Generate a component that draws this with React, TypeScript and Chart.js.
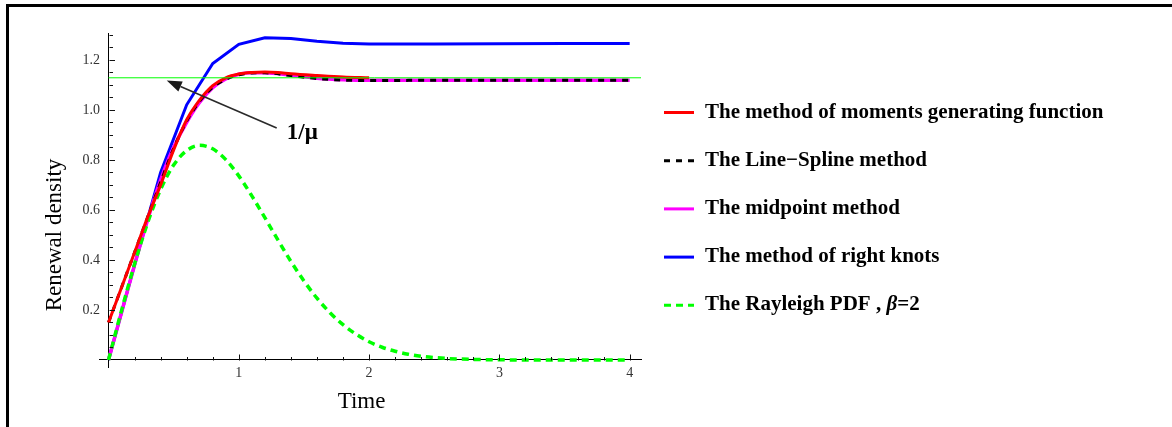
import { useEffect, useRef } from "react";
import { Chart, registerables } from "chart.js";

Chart.register(...registerables);

const W = 1172;
const H = 427;

// axis ranges
const xMin = -0.073;
const xMax = 4.087;
const yMin = -0.03;
const yMax = 1.307;

// ticks
const xMajorTicks = [1, 2, 3, 4];
const xTickLabels = ["1", "2", "3", "4"];
const xMinorTicks = [0.2, 0.4, 0.6, 0.8, 1.2, 1.4, 1.6, 1.8, 2.2, 2.4, 2.6, 2.8, 3.2, 3.4, 3.6, 3.8];
const yMajorTicks = [0.2, 0.4, 0.6, 0.8, 1.0, 1.2];
const yTickLabels = ["0.2", "0.4", "0.6", "0.8", "1.0", "1.2"];
const yMinorTicks = [0.05, 0.1, 0.15, 0.25, 0.3, 0.35, 0.45, 0.5, 0.55, 0.65, 0.7, 0.75, 0.85, 0.9, 0.95, 1.05, 1.1, 1.15, 1.25, 1.3];

// series: method of moments generating function
const momentsT = [0, 0.1, 0.2, 0.3, 0.4, 0.5, 0.6, 0.7, 0.8, 0.9, 1.0, 1.1, 1.2, 1.3, 1.4, 1.6, 1.8, 2.0];
const momentsV = [0.15, 0.29, 0.43, 0.57, 0.7, 0.84, 0.96, 1.04, 1.097, 1.128, 1.143, 1.149, 1.151, 1.149, 1.144, 1.137, 1.131, 1.128];

// Line-Spline method
const splineT = [0, 0.1, 0.2, 0.3, 0.4, 0.5, 0.6, 0.7, 0.8, 0.9, 1.0, 1.1, 1.2, 1.4, 1.6, 1.8, 2.0, 2.5, 3.0, 3.5, 4.0];
const splineV = [0.15, 0.29, 0.43, 0.57, 0.71, 0.845, 0.955, 1.035, 1.09, 1.122, 1.14, 1.147, 1.148, 1.137, 1.125, 1.119, 1.117, 1.118, 1.118, 1.118, 1.118];

// midpoint method
const midT = [0, 0.1, 0.2, 0.3, 0.4, 0.5, 0.6, 0.7, 0.8, 0.9, 1.0, 1.1, 1.2, 1.4, 1.6, 1.8, 2.0, 2.5, 3.0, 3.5, 4.0];
const midV = [0, 0.19, 0.38, 0.56, 0.72, 0.85, 0.95, 1.03, 1.088, 1.123, 1.142, 1.148, 1.148, 1.138, 1.126, 1.12, 1.118, 1.118, 1.118, 1.118, 1.118];

// method of right knots
const rightT = [0, 0.2, 0.4, 0.6, 0.8, 1.0, 1.2, 1.4, 1.6, 1.8, 2.0, 2.5, 3.0, 3.5, 4.0];
const rightV = [0, 0.38, 0.75, 1.02, 1.185, 1.262, 1.288, 1.285, 1.274, 1.266, 1.263, 1.263, 1.264, 1.265, 1.265];

// Rayleigh PDF, beta = 2
const rayleighT = [0, 0.1, 0.2, 0.3, 0.4, 0.5, 0.6, 0.7, 0.8, 0.9, 1.0, 1.1, 1.2, 1.3, 1.4, 1.5, 1.6, 1.7, 1.8, 1.9, 2.0, 2.1, 2.2, 2.3, 2.4, 2.5, 2.6, 2.7, 2.8, 3.0, 3.5, 4.0];
const rayleighV = [0, 0.198, 0.384, 0.548, 0.682, 0.779, 0.837, 0.858, 0.844, 0.801, 0.736, 0.656, 0.569, 0.48, 0.394, 0.316, 0.247, 0.189, 0.141, 0.103, 0.073, 0.051, 0.035, 0.023, 0.015, 0.0097, 0.006, 0.0037, 0.0022, 0.0007, 0, 0];

// 1/mu reference level
const recipMu = 1.128;
const recipMuSpan = [0, xMax];

// annotation arrow (data coords): tail -> head
const arrowTail = [1.291, 0.927];
const arrowHead = [0.447, 1.117];
const arrowLabel = "1/μ";
const arrowLabelPos = [1.368, 0.882];

const xTitle = "Time";
const yTitle = "Renewal density";

const legendLabels = [
  "The method of moments generating function",
  "The Line−Spline method",
  "The midpoint method",
  "The method of right knots",
  "The Rayleigh PDF , β=2",
];
// dataset index for each legend row
const legendDataset = [1, 3, 4, 5, 2];

const pts = (ts: number[], vs: number[]) => ts.map((t, i) => ({ x: t, y: vs[i] }));

const SERIF = "'Liberation Serif', 'Times New Roman', serif";

function drawRich(ctx: CanvasRenderingContext2D, text: string, x: number, y: number, size: number, bold: boolean) {
  ctx.save();
  ctx.textBaseline = "alphabetic";
  ctx.textAlign = "left";
  let cx = x;
  for (const ch of Array.from(text)) {
    const italic = ch === "β";
    ctx.font = `${italic ? "italic " : ""}${bold ? "bold " : ""}${size}px ${SERIF}`;
    ctx.fillText(ch, cx, y);
    cx += ctx.measureText(ch).width;
  }
  ctx.restore();
}

const decorPlugin = {
  id: "decor",
  afterDraw(chart: any) {
    const ctx: CanvasRenderingContext2D = chart.ctx;
    const xs = chart.scales.x;
    const ys = chart.scales.y;
    const x0 = xs.getPixelForValue(0);
    const y0 = ys.getPixelForValue(0);
    ctx.save();

    // frame
    ctx.fillStyle = "#000";
    ctx.fillRect(6, 4, W - 6, 3);
    ctx.fillRect(6, 4, 3, H - 4);

    // ticks (inward)
    ctx.strokeStyle = "#111";
    ctx.lineWidth = 1;
    ctx.beginPath();
    const yl = Math.round(y0) + 0.5;
    const xl = Math.round(x0) + 0.5;
    xMajorTicks.forEach((v) => {
      const p = Math.round(xs.getPixelForValue(v)) + 0.5;
      ctx.moveTo(p, yl);
      ctx.lineTo(p, yl - 6);
    });
    xMinorTicks.forEach((v) => {
      const p = Math.round(xs.getPixelForValue(v)) + 0.5;
      ctx.moveTo(p, yl);
      ctx.lineTo(p, yl - 3.5);
    });
    yMajorTicks.forEach((v) => {
      const p = Math.round(ys.getPixelForValue(v)) + 0.5;
      ctx.moveTo(xl, p);
      ctx.lineTo(xl + 5.5, p);
    });
    yMinorTicks.forEach((v) => {
      const p = Math.round(ys.getPixelForValue(v)) + 0.5;
      ctx.moveTo(xl, p);
      ctx.lineTo(xl + 3.5, p);
    });
    ctx.stroke();

    // y tick labels
    ctx.fillStyle = "#333";
    ctx.font = `14px ${SERIF}`;
    ctx.textAlign = "right";
    ctx.textBaseline = "middle";
    yMajorTicks.forEach((v, i) => {
      ctx.fillText(yTickLabels[i], x0 - 8.5, ys.getPixelForValue(v) + 0.5);
    });

    // arrow annotation
    const tx = xs.getPixelForValue(arrowTail[0]);
    const ty = ys.getPixelForValue(arrowTail[1]);
    const hx = xs.getPixelForValue(arrowHead[0]);
    const hy = ys.getPixelForValue(arrowHead[1]);
    const ang = Math.atan2(hy - ty, hx - tx);
    const headLen = 15;
    const headHalf = 5.5;
    const bx = hx - headLen * Math.cos(ang);
    const by = hy - headLen * Math.sin(ang);
    ctx.strokeStyle = "#2a2a2a";
    ctx.lineWidth = 1.6;
    ctx.beginPath();
    ctx.moveTo(tx, ty);
    ctx.lineTo(bx, by);
    ctx.stroke();
    ctx.fillStyle = "#1a1a1a";
    ctx.beginPath();
    ctx.moveTo(hx, hy);
    ctx.lineTo(bx + headHalf * Math.sin(ang), by - headHalf * Math.cos(ang));
    ctx.lineTo(bx - headHalf * Math.sin(ang), by + headHalf * Math.cos(ang));
    ctx.closePath();
    ctx.fill();

    ctx.fillStyle = "#000";
    drawRich(ctx, arrowLabel, xs.getPixelForValue(arrowLabelPos[0]), ys.getPixelForValue(arrowLabelPos[1]), 23, true);

    // axis titles
    ctx.fillStyle = "#000";
    ctx.font = `23px ${SERIF}`;
    ctx.textAlign = "center";
    ctx.textBaseline = "alphabetic";
    ctx.fillText(xTitle, 361.5, 408);
    ctx.save();
    ctx.translate(61, 235);
    ctx.rotate(-Math.PI / 2);
    ctx.fillText(yTitle, 0, 0);
    ctx.restore();

    // legend
    legendLabels.forEach((label, i) => {
      const ds = chart.data.datasets[legendDataset[i]];
      const cy = 112.5 + i * 48.2;
      ctx.save();
      ctx.strokeStyle = ds.borderColor;
      ctx.lineWidth = 3;
      ctx.setLineDash(ds.borderDash || []);
      ctx.beginPath();
      ctx.moveTo(664, cy);
      ctx.lineTo(694, cy);
      ctx.stroke();
      ctx.restore();
      ctx.fillStyle = "#000";
      drawRich(ctx, label, 705, cy + 5, 21, true);
    });

    ctx.restore();
  },
};

export default function App() {
  const ref = useRef<HTMLCanvasElement>(null);
  useEffect(() => {
    const common = { pointRadius: 0, fill: false, borderWidth: 3 };
    const chart = new Chart(ref.current as HTMLCanvasElement, {
      type: "line",
      data: {
        datasets: [
          {
            ...common,
            label: "1/mu",
            data: pts(recipMuSpan, [recipMu, recipMu]),
            borderColor: "#00ff00",
            borderWidth: 1,
          },
          {
            ...common,
            label: legendLabels[0],
            data: pts(momentsT, momentsV),
            borderColor: "#ff0000",
            cubicInterpolationMode: "monotone",
          },
          {
            ...common,
            label: legendLabels[4],
            data: pts(rayleighT, rayleighV),
            borderColor: "#00ff00",
            borderDash: [7, 5],
            borderWidth: 3.5,
            cubicInterpolationMode: "monotone",
          },
          {
            ...common,
            label: legendLabels[1],
            data: pts(splineT, splineV),
            borderColor: "#000000",
            borderDash: [6, 6],
            cubicInterpolationMode: "monotone",
          },
          {
            ...common,
            label: legendLabels[2],
            data: pts(midT, midV),
            borderColor: "#ff00ff",
            borderWidth: 3.5,
            cubicInterpolationMode: "monotone",
          },
          {
            ...common,
            label: legendLabels[3],
            data: pts(rightT, rightV),
            borderColor: "#0000ff",
          },
        ] as any,
      },
      options: {
        animation: false,
        responsive: false,
        devicePixelRatio: 1,
        layout: { padding: { left: 99, right: 531, top: 33, bottom: 59.5 } },
        plugins: { legend: { display: false }, tooltip: { enabled: false }, title: { display: false } },
        scales: {
          x: {
            type: "linear",
            min: xMin,
            max: xMax,
            position: { y: 0 } as any,
            grid: { display: false, drawTicks: false },
            border: { display: true, color: "#000", width: 1 },
            afterBuildTicks: (axis: any) => {
              axis.ticks = xMajorTicks.map((v) => ({ value: v }));
            },
            ticks: {
              autoSkip: false,
              maxRotation: 0,
              padding: 5,
              color: "#333",
              font: { family: SERIF, size: 14 },
              callback: (v: any) => {
                const i = xMajorTicks.indexOf(Number(v));
                return i >= 0 ? xTickLabels[i] : "";
              },
            },
          },
          y: {
            type: "linear",
            min: yMin,
            max: yMax,
            position: { x: 0 } as any,
            grid: { display: false, drawTicks: false },
            border: { display: true, color: "#000", width: 1 },
            afterBuildTicks: (axis: any) => {
              axis.ticks = yMajorTicks.map((v) => ({ value: v }));
            },
            ticks: { display: false },
          },
        },
      } as any,
      plugins: [decorPlugin],
    });
    return () => chart.destroy();
  }, []);
  return (
    <div style={{ position: "fixed", left: 0, top: 0, width: W, height: H, background: "#fff" }}>
      <canvas ref={ref} width={W} height={H} style={{ width: W, height: H, display: "block" }} />
    </div>
  );
}
